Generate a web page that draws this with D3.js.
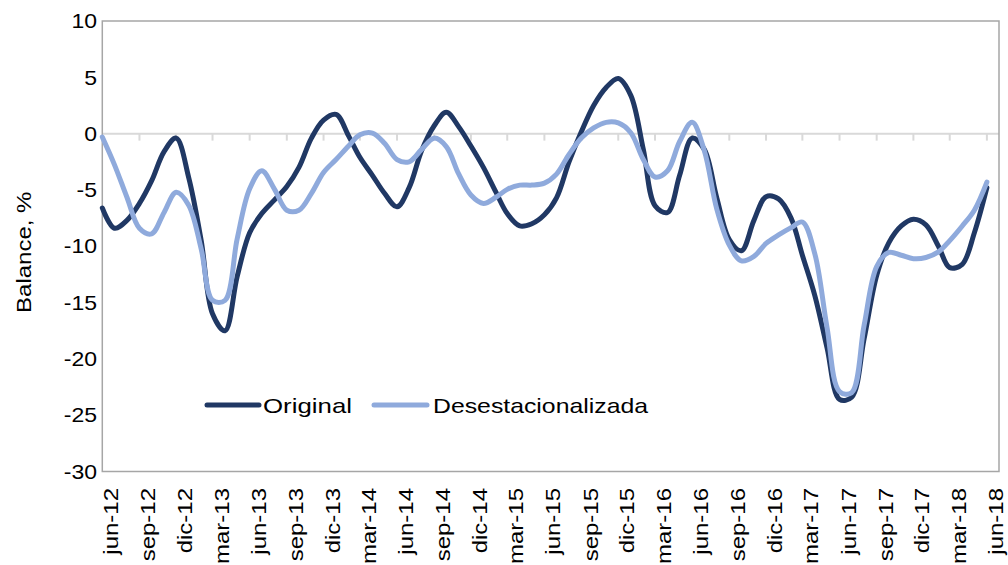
<!DOCTYPE html>
<html>
<head>
  <meta charset="utf-8">
  <script src="https://d3js.org/d3.v7.min.js"></script>
  <style>
    body { margin: 0; background: #fff; }
    text { font-family: "Liberation Sans", Arial, sans-serif; fill: #000; }
  </style>
</head>
<body>
  <div id="chart"></div>
  <script type="text/javascript">
    // monthly balance, jun-12 .. jun-18
    var monthNames = ["ene", "feb", "mar", "abr", "may", "jun", "jul", "ago", "sep", "oct", "nov", "dic"];
    var seriesNames = ["Original", "Desestacionalizada"];
    var original = [-6.6, -8.4, -7.7, -6.2, -4.2, -1.6, -0.4, -3.9, -9.5, -16.0, -17.5, -12.7,
      -8.8, -7.1, -5.9, -4.7, -3.0, -0.4, 1.2, 1.7, -0.2, -2.1, -3.7, -5.3,
      -6.5, -4.8, -1.5, 0.7, 1.9, 0.6, -1.1, -3.0, -5.2, -7.1, -8.2, -8.0,
      -7.2, -5.7, -2.5, 0.2, 2.5, 4.1, 4.9, 3.4, -1.4, -6.4, -7.0, -3.7,
      -0.4, -1.4, -5.7, -9.4, -10.4, -7.7, -5.6, -5.8, -7.5, -10.8, -14.4, -19.0,
      -23.6, -23.4, -18.2, -12.6, -9.7, -8.2, -7.6, -8.1, -10.0, -11.9, -11.6, -8.8,
      -4.8];
    var desestacionalizada = [-0.3, -2.75, -5.65, -8.4, -8.9, -7.0, -5.2, -6.35, -10.25, -14.8, -14.8, -9.35,
      -4.9, -3.3, -4.9, -6.8, -6.8, -5.3, -3.45, -2.3, -1.1, -0.1, 0.05, -0.85,
      -2.3, -2.5, -1.4, -0.4, -1.15, -3.6, -5.45, -6.2, -5.65, -4.95, -4.57, -4.57,
      -4.4, -3.6, -1.85, -0.37, 0.5, 1.0, 0.95, 0.08, -2.3, -3.85, -3.3, -0.7,
      1.0, -1.5, -6.7, -9.9, -11.3, -10.9, -9.75, -9.0, -8.35, -7.85, -10.7, -17.2,
      -22.9, -23.0, -17.0, -11.8, -10.55, -10.8, -11.1, -11.0, -10.5, -9.5, -8.2, -6.8,
      -4.3];
    var yTicks = [10, 5, 0, -5, -10, -15, -20, -25, -30];

    var width = 1008, height = 565;
    var plot = { left: 102.3, right: 999, top: 21, bottom: 471.5 };
    var colors = ["#203864", "#8faadc"];

    var start = new Date(2012, 5, 1);
    var dates = original.map(function (d, i) { return d3.timeMonth.offset(start, i); });
    // quarterly labels: jun, sep, dic, mar
    var tickDates = dates.filter(function (d, i) { return i % 3 === 0; });

    var x = d3.scaleTime()
      .domain([start, new Date(2018, 6, 1)])
      .range([plot.left, plot.right]);
    var y = d3.scaleLinear()
      .domain([-30, 10])
      .range([plot.bottom, plot.top]);

    var svg = d3.select("#chart").append("svg")
      .attr("width", width)
      .attr("height", height);

    // zero line with quarter ticks
    svg.append("line")
      .attr("x1", plot.left).attr("x2", plot.right)
      .attr("y1", y(0)).attr("y2", y(0))
      .attr("stroke", "#d9d9d9").attr("stroke-width", 2);
    svg.selectAll(".qtick").data(tickDates.slice(1))
      .enter().append("line")
      .attr("class", "qtick")
      .attr("x1", function (d) { return x(d); })
      .attr("x2", function (d) { return x(d); })
      .attr("y1", y(0)).attr("y2", y(0) + 7)
      .attr("stroke", "#d9d9d9").attr("stroke-width", 2);

    // plot border
    svg.append("rect")
      .attr("x", plot.left).attr("y", plot.top)
      .attr("width", plot.right - plot.left)
      .attr("height", plot.bottom - plot.top)
      .attr("fill", "none")
      .attr("stroke", "#a6a6a6").attr("stroke-width", 1.5);

    // y labels (the original font is a little wider than Arial)
    svg.selectAll(".ylab").data(yTicks)
      .enter().append("text")
      .attr("class", "ylab")
      .attr("transform", function (d) { return "translate(97," + y(d) + ") scale(1.15,1)"; })
      .attr("dy", "0.36em")
      .attr("text-anchor", "end")
      .style("font-size", "20px")
      .text(function (d) { return d; });

    svg.append("text")
      .attr("transform", "translate(31," + ((plot.top + plot.bottom) / 2 + 6) + ") rotate(-90) scale(1.2,1)")
      .attr("text-anchor", "middle")
      .style("font-size", "20px")
      .text("Balance, %");

    // x labels
    svg.selectAll(".xlab").data(tickDates)
      .enter().append("text")
      .attr("class", "xlab")
      .attr("transform", function (d) { return "translate(" + (x(d) + 16) + ",488) rotate(-90) scale(1.2,1)"; })
      .attr("text-anchor", "end")
      .style("font-size", "20px")
      .text(function (d) { return monthNames[d.getMonth()] + "-" + String(d.getFullYear()).slice(2); });

    var line = d3.line()
      .x(function (d) { return x(d.date); })
      .y(function (d) { return y(d.value); })
      .curve(d3.curveCatmullRom.alpha(0.5));

    [original, desestacionalizada].forEach(function (vals, k) {
      var pts = vals.map(function (v, i) { return { date: dates[i], value: v }; });
      svg.append("path")
        .datum(pts)
        .attr("d", line)
        .attr("fill", "none")
        .attr("stroke", colors[k])
        .attr("stroke-width", 5)
        .attr("stroke-linejoin", "round")
        .attr("stroke-linecap", "round");
    });

    // legend
    var legend = [
      { x1: 207, x2: 259, tx: 263, len: 89 },
      { x1: 374, x2: 427, tx: 433, len: 215 }
    ];
    legend.forEach(function (l, k) {
      svg.append("line")
        .attr("x1", l.x1).attr("x2", l.x2)
        .attr("y1", 405).attr("y2", 405)
        .attr("stroke", colors[k]).attr("stroke-width", 5)
        .attr("stroke-linecap", "round");
      svg.append("text")
        .attr("x", l.tx).attr("y", 405)
        .attr("dy", "0.36em")
        .attr("textLength", l.len)
        .attr("lengthAdjust", "spacingAndGlyphs")
        .style("font-size", "21px")
        .text(seriesNames[k]);
    });
  </script>
</body>
</html>
